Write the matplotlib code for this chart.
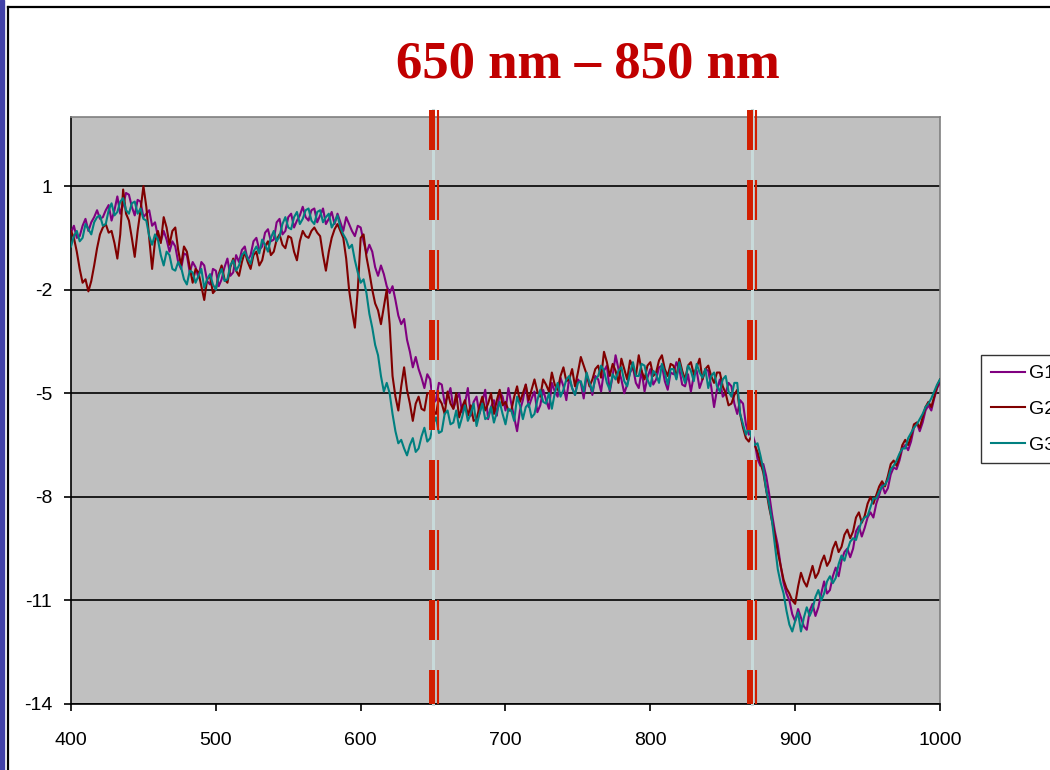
import matplotlib.pyplot as plt
from matplotlib import transforms
from matplotlib.lines import Line2D
from matplotlib.patches import Rectangle

plt.rcParams['font.family'] = ['Liberation Sans', 'DejaVu Sans']
plt.rcParams['axes.unicode_minus'] = False
plt.rcParams['lines.scale_dashes'] = False

# wavelength grid (nm), 2 nm steps, one row of values = 40 nm
wavelength = list(range(400, 1001, 2))

g1 = [-0.35, -0.15, -0.5, -0.45, -0.15, 0.05, -0.3, -0.05, 0.1, 0.3, 0.05, 0.1, 0.3, 0.45, 0.0, 0.3, 0.7, 0.2, 0.45, 0.8,
      0.75, 0.4, 0.15, 0.6, 0.55, 0.1, 0.2, 0.3, -0.15, -0.05, -0.45, -0.6, -0.3, -0.55, -0.9, -0.6, -0.75, -1.2, -1.4, -0.95,
      -1.0, -1.5, -1.2, -1.35, -1.65, -1.2, -1.3, -1.75, -1.85, -1.4, -1.45, -1.9, -1.7, -1.35, -1.1, -1.6, -1.5, -1.0, -1.2, -0.85,
      -0.75, -1.15, -1.0, -0.6, -0.5, -0.85, -0.75, -0.35, -0.25, -0.6, -0.55, -0.05, 0.05, -0.4, -0.3, 0.1, 0.2, -0.2, 0.0, 0.15,
      0.4, 0.1, 0.0, 0.3, 0.35, -0.05, 0.15, 0.35, -0.1, 0.05, 0.25, -0.1, 0.2, -0.05, -0.3, 0.1, -0.1, -0.3, -0.45, -0.15,
      -0.2, -0.6, -0.95, -0.7, -0.9, -1.35, -1.6, -1.3, -1.55, -1.9, -2.1, -1.9, -2.3, -2.75, -3.0, -2.85, -3.45, -3.8, -4.25, -3.95,
      -4.3, -4.55, -4.85, -4.45, -4.6, -5.3, -5.2, -4.7, -4.75, -5.3, -5.1, -4.85, -5.45, -5.2, -5.0, -5.55, -5.3, -4.85, -5.65, -5.25,
      -5.1, -5.6, -5.25, -4.9, -5.75, -5.4, -5.2, -5.65, -4.95, -5.1, -5.5, -4.85, -5.3, -5.7, -6.1, -5.5, -5.2, -4.75, -5.4, -5.15,
      -4.95, -5.55, -5.35, -4.9, -5.2, -5.45, -4.7, -4.95, -5.1, -4.55, -4.8, -5.2, -4.55, -4.85, -5.05, -4.6, -4.7, -5.15, -4.5, -4.7,
      -5.05, -4.5, -4.6, -4.95, -4.35, -4.2, -4.95, -4.5, -3.9, -4.3, -4.6, -5.0, -4.75, -4.4, -4.25, -4.7, -4.85, -4.35, -4.95, -4.55,
      -4.3, -4.75, -4.6, -4.25, -4.2, -4.65, -4.9, -4.4, -4.45, -4.1, -4.3, -4.75, -4.8, -4.45, -4.95, -4.5, -4.35, -4.85, -4.6, -4.3,
      -4.35, -4.8, -5.4, -4.9, -4.6, -5.1, -5.0, -4.7, -4.8, -5.3, -5.6, -5.2, -5.3, -5.9, -6.2, -6.1, -6.4, -6.9, -7.1, -7.05,
      -7.4, -7.9, -8.5, -9.0, -9.4, -10.0, -10.5, -10.8, -11.0, -11.4, -11.6, -11.25, -11.5, -11.75, -11.85, -11.3, -11.1, -11.45, -11.2, -10.8,
      -10.45, -10.8, -10.7, -10.3, -10.05, -10.3, -9.85, -9.6, -9.5, -9.75, -9.5, -9.0, -8.85, -9.15, -8.9, -8.6, -8.45, -8.6, -8.2, -7.95,
      -7.65, -7.9, -7.75, -7.35, -7.15, -7.2, -6.95, -6.6, -6.5, -6.65, -6.4, -6.0, -5.85, -6.1, -5.85, -5.5, -5.35, -5.5, -5.15, -4.85,
      -4.7]

g2 = [-0.3, -0.5, -0.9, -1.4, -1.8, -1.7, -2.05, -1.75, -1.3, -0.8, -0.4, -0.2, -0.1, -0.35, -0.3, -0.65, -1.1, -0.4, 0.9, 0.2,
      0.0, -0.5, -1.05, -0.3, 0.3, 1.0, 0.4, -0.5, -1.4, -0.6, -0.3, -0.65, 0.1, -0.2, -0.7, -0.3, -0.2, -0.85, -1.3, -0.75,
      -0.9, -1.35, -1.8, -1.4, -1.5, -1.9, -2.3, -1.7, -1.6, -2.1, -2.0, -1.55, -1.3, -1.7, -1.8, -1.35, -1.1, -1.45, -1.6, -1.2,
      -0.9, -1.2, -1.4, -1.0, -0.9, -1.3, -1.15, -0.75, -0.6, -1.0, -0.9, -0.55, -0.4, -0.7, -0.8, -0.45, -0.5, -0.9, -1.15, -0.6,
      -0.3, -0.45, -0.5, -0.3, -0.2, -0.35, -0.45, -1.0, -1.45, -0.9, -0.5, -0.25, -0.1, -0.3, -0.5, -1.1, -2.0, -2.6, -3.1, -2.0,
      -0.5, -0.4, -1.05, -1.5, -2.0, -2.4, -2.6, -3.0, -2.5, -2.0, -3.0, -4.5, -5.1, -5.5, -4.8, -4.25, -4.9, -5.3, -5.8, -5.3,
      -5.1, -5.45, -5.5, -5.0, -5.0, -5.5, -5.6, -5.15, -5.3, -5.6, -4.95, -5.3, -5.45, -5.0, -5.7, -5.4, -5.2, -5.65, -5.35, -5.8,
      -5.75, -5.4, -5.1, -5.5, -5.3, -5.0, -5.6, -5.2, -4.9, -5.35, -5.25, -5.5, -5.5, -5.1, -4.8, -5.25, -5.0, -4.75, -5.2, -4.9,
      -4.6, -4.95, -5.1, -4.6, -4.75, -4.95, -4.4, -4.75, -4.9, -4.5, -4.25, -4.65, -4.6, -4.3, -4.8, -4.4, -3.95, -4.2, -4.45, -4.8,
      -4.6, -4.3, -4.2, -4.55, -3.8, -4.1, -4.5, -4.15, -4.35, -4.7, -4.0, -4.3, -4.6, -4.05, -4.25, -4.5, -3.9, -4.35, -4.6, -4.2,
      -4.1, -4.5, -4.4, -4.05, -3.9, -4.3, -4.5, -4.15, -4.2, -4.55, -4.0, -4.35, -4.6, -4.2, -4.1, -4.45, -4.25, -4.0, -4.6, -4.3,
      -4.2, -4.5, -4.7, -4.4, -4.4, -4.8, -5.0, -5.35, -5.3, -5.05, -4.9, -5.6, -6.0, -6.3, -6.4, -6.2, -6.5, -6.7, -7.0, -7.3,
      -7.8, -8.3, -8.7, -9.1, -9.6, -10.0, -10.4, -10.65, -10.8, -11.0, -11.1, -10.6, -10.2, -10.45, -10.6, -10.3, -10.0, -10.35, -10.2, -9.9,
      -9.7, -10.0, -9.85, -9.5, -9.3, -9.6, -9.45, -9.1, -8.95, -9.2, -9.0, -8.6, -8.45, -8.75, -8.55, -8.2, -8.0, -8.2, -7.95, -7.7,
      -7.55, -7.7, -7.4, -7.05, -6.95, -7.1, -6.85, -6.5, -6.35, -6.5, -6.25, -5.9, -5.85, -6.0, -5.7, -5.4, -5.25, -5.4, -5.1, -4.8,
      -4.6]

g3 = [-0.75, -0.45, -0.3, -0.6, -0.5, -0.1, -0.25, -0.4, -0.05, 0.1, 0.15, -0.15, -0.1, 0.3, 0.5, 0.15, 0.25, 0.55, 0.65, 0.3,
      0.2, 0.5, 0.55, 0.2, 0.35, 0.05, 0.0, -0.45, -0.7, -0.4, -0.55, -1.0, -1.3, -0.9, -1.0, -1.4, -1.45, -1.2, -1.35, -1.7,
      -1.85, -1.45, -1.5, -1.8, -1.6, -1.4, -1.95, -1.7, -1.55, -1.85, -2.0, -1.6, -1.4, -1.75, -1.7, -1.3, -1.15, -1.45, -1.3, -1.0,
      -0.9, -1.1, -1.25, -0.9, -0.75, -0.95, -0.55, -0.7, -0.9, -0.5, -0.3, -0.6, -0.45, -0.1, 0.1, -0.2, -0.25, 0.1, 0.25, -0.1,
      0.05, 0.3, 0.35, 0.0, -0.1, 0.25, 0.3, -0.05, 0.1, 0.2, -0.2, -0.05, 0.15, -0.2, -0.4, -0.55, -0.8, -0.7, -1.15, -1.5,
      -1.8, -1.7, -2.1, -2.7, -3.1, -3.6, -3.9, -4.5, -4.95, -4.7, -5.0, -5.6, -6.1, -6.45, -6.35, -6.6, -6.8, -6.5, -6.3, -6.7,
      -6.6, -6.25, -6.0, -6.4, -6.3, -5.9, -5.7, -6.15, -6.1, -5.6, -5.5, -5.9, -5.85, -5.5, -6.0, -5.7, -5.35, -5.8, -5.6, -5.3,
      -5.95, -5.6, -5.3, -5.75, -5.7, -5.4, -5.85, -5.55, -5.25, -5.6, -5.9, -5.45, -5.5, -5.8, -5.1, -5.35, -5.75, -5.4, -5.3, -5.7,
      -5.6, -5.2, -4.9, -5.25, -5.3, -5.0, -5.45, -5.0, -4.7, -5.1, -4.9, -4.6, -4.5, -4.85, -5.05, -4.7, -4.65, -4.95, -4.4, -4.7,
      -4.95, -4.6, -4.5, -4.2, -4.35, -4.7, -4.9, -4.45, -4.6, -4.35, -4.25, -4.65, -4.8, -4.4, -4.1, -4.5, -4.5, -4.15, -4.2, -4.6,
      -4.8, -4.35, -4.45, -4.7, -4.15, -4.4, -4.75, -4.3, -4.3, -4.6, -4.1, -4.45, -4.7, -4.2, -4.35, -4.65, -4.15, -4.4, -4.55, -4.3,
      -4.85, -4.5, -4.4, -4.8, -4.95, -4.6, -4.5, -4.95, -5.1, -4.7, -4.7, -5.6, -5.9, -6.2, -6.0, -6.3, -6.5, -6.45, -6.8, -7.2,
      -7.8, -8.2, -8.7, -9.4, -10.1, -10.5, -10.8, -11.3, -11.7, -11.9, -11.6, -11.35, -11.9, -11.5, -11.2, -11.45, -11.25, -10.9, -10.7, -11.0,
      -10.8, -10.45, -10.3, -10.5, -10.35, -9.95, -9.7, -9.85, -9.55, -9.3, -9.2, -9.25, -8.95, -8.7, -8.6, -8.55, -8.3, -8.05, -8.05, -7.85,
      -7.7, -7.65, -7.5, -7.2, -7.1, -6.95, -6.75, -6.6, -6.6, -6.3, -6.15, -6.0, -5.9, -5.75, -5.6, -5.4, -5.3, -5.15, -4.95, -4.75,
      -4.6]

series_names = ['G1', 'G2', 'G3']
series_colors = ['#800080', '#800000', '#008080']
marker_lines = [650, 870]
yticks = [1, -2, -5, -8, -11, -14]
xticks = [400, 500, 600, 700, 800, 900, 1000]

fig = plt.figure(figsize=(10.5, 7.7), dpi=100)

# slide frame: blue strip and black border
fig.patches.append(Rectangle((0, 0), 4 / 1050, 1, transform=fig.transFigure,
                             color='#4040A8', zorder=0))
fig.lines.append(Line2D([7.5 / 1050, 7.5 / 1050], [0, 1 - 6.5 / 770],
                        transform=fig.transFigure, color='black', lw=1.6))
fig.lines.append(Line2D([7.5 / 1050, 1], [1 - 6.5 / 770, 1 - 6.5 / 770],
                        transform=fig.transFigure, color='black', lw=1.6))

ax = fig.add_axes([71 / 1050, 66 / 770, 869 / 1050, 587 / 770])
ax.set_facecolor('#C0C0C0')

for vals, name, col in zip([g1, g2, g3], series_names, series_colors):
    ax.plot(wavelength, vals, color=col, lw=1.5, label=name, zorder=3)

ax.set_xlim(400, 1000)
ax.set_ylim(-14, 3)
ax.set_xticks(xticks)
ax.set_yticks(yticks)
ax.tick_params(axis='both', direction='out', length=5, width=1.2,
               labelsize=14, colors='black')
ax.tick_params(axis='y', pad=8.5)
ax.tick_params(axis='x', pad=15)
ax.yaxis.grid(True, color='black', lw=1.2)
ax.set_axisbelow(True)
for s in ['top', 'right']:
    ax.spines[s].set_color('#808080')
    ax.spines[s].set_linewidth(1.2)
for s in ['left', 'bottom']:
    ax.spines[s].set_color('black')
    ax.spines[s].set_linewidth(1.2)

# double dashed red markers with a pale centre line
xtr = ax.get_xaxis_transform()
for xm in marker_lines:
    ax.plot([xm, xm], [1.012, 0], transform=xtr, color='#C8DADA', lw=2.2,
            clip_on=False, zorder=5)
    t_thick = transforms.offset_copy(xtr, fig=fig, x=-1.1, y=0, units='points')
    t_thin = transforms.offset_copy(xtr, fig=fig, x=3.3, y=0, units='points')
    ax.plot([xm, xm], [1.012, 0], transform=t_thick, color='#D21E00', lw=4.3,
            dashes=(28.8, 21.6), dash_capstyle='butt', clip_on=False, zorder=6)
    ax.plot([xm, xm], [1.012, 0], transform=t_thin, color='#D21E00', lw=1.5,
            dashes=(28.8, 21.6), dash_capstyle='butt', clip_on=False, zorder=6)

fig.text(0.5595, 1 - 77 / 770, '650 nm \u2013 850 nm', ha='center',
         va='baseline', fontsize=38, fontweight='bold', color='#C00000',
         family=['Liberation Serif', 'DejaVu Serif'])

leg = ax.legend(loc='upper left', bbox_to_anchor=(981 / 1050, 1 - 355 / 770),
                bbox_transform=fig.transFigure, fontsize=14, frameon=True,
                fancybox=False, edgecolor='black', handlelength=1.75,
                handletextpad=0.2, labelspacing=0.93, borderpad=0.5,
                borderaxespad=0)
leg.get_frame().set_linewidth(1.0)
for h in leg.get_lines():
    h.set_linewidth(1.5)

fig.savefig('out.png', dpi=100)
